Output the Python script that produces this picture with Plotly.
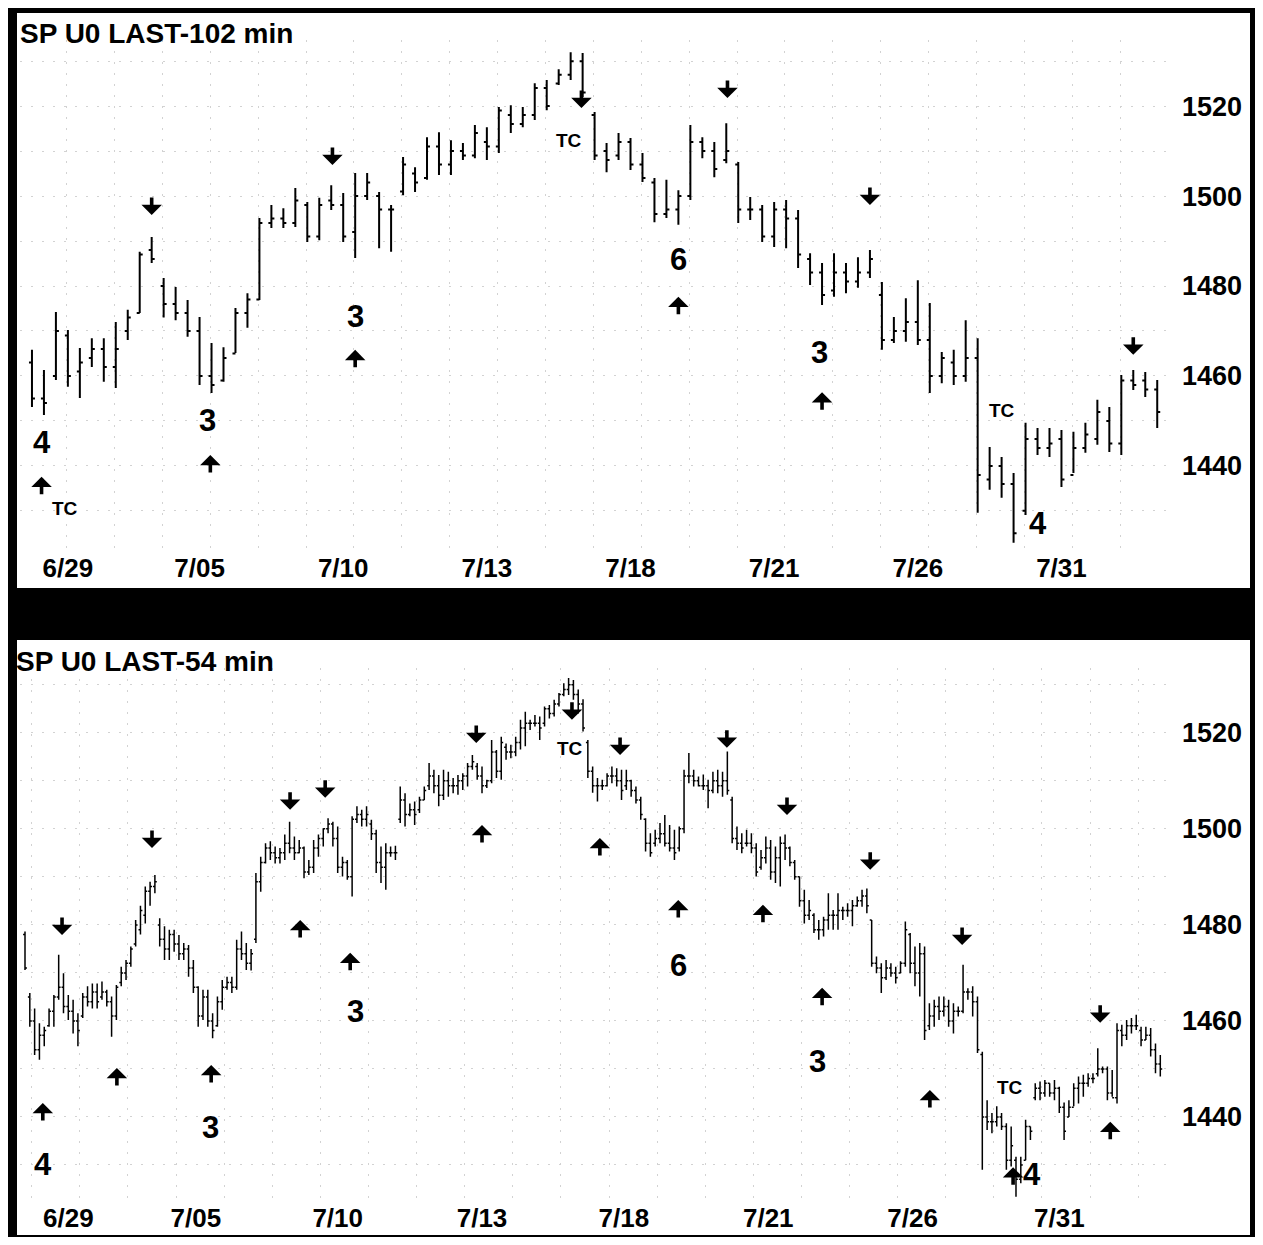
import plotly.graph_objects as go

# ---------------- data: top panel (102-min bars) ----------------
top_open = [1463,1455,1460,1469,1461,1464,1466,1462,1470,1474,
            1488,1480,1476,1474,1470,1460,1459,1465,1474,1477,
            1494,1495,1494,1498,1491,1499,1498,1492,1500,1500,
            1497,1501,1505,1504,1511,1507,1510,1509,1512,1511,
            1518,1516,1518,1524,1525,1527,1530,1518,1510,1509,
            1512,1507,1503,1496,1497,1500,1512,1510,1508,1507,
            1497,1497,1491,1497,1495,1486,1483,1479,1483,1481,
            1483,1478,1468,1470,1472,1468,1460,1463,1460,1464,
            1437,1440,1436,1430,1446,1444,1446,1438,1444,1446,
            1450,1445,1459,1459,1457]
top_high = [1465.8,1461.3,1474.2,1470.2,1466.2,1468.4,1468.4,1472.0,1474.7,1487.6,
            1490.9,1481.8,1479.8,1476.9,1473.1,1467.3,1466.4,1475.1,1478.4,1495.1,
            1498.0,1497.3,1501.8,1498.7,1499.6,1502.4,1500.7,1505.1,1505.1,1500.9,
            1498.0,1508.7,1506.4,1513.1,1514.2,1512.4,1511.8,1515.8,1515.3,1519.8,
            1520.2,1519.8,1525.1,1525.8,1528.2,1532.0,1531.8,1518.7,1511.8,1514.0,
            1512.9,1509.6,1504.0,1503.6,1501.3,1515.8,1513.1,1512.0,1516.2,1507.6,
            1499.8,1498.0,1498.7,1499.1,1496.9,1487.3,1485.1,1487.3,1485.1,1486.4,
            1488.0,1480.9,1473.1,1477.3,1481.3,1476.2,1465.3,1465.8,1472.4,1468.4,
            1444.2,1442.0,1438.4,1449.6,1448.4,1448.4,1448.0,1447.6,1449.6,1454.7,
            1453.1,1460.2,1461.3,1460.9,1459.1]
top_low = [1453.1,1451.3,1459.1,1457.6,1455.1,1462.0,1458.7,1457.3,1468.0,1474.0,
           1485.1,1473.0,1472.4,1468.7,1458.0,1456.2,1458.7,1465.1,1470.7,1476.9,
           1492.9,1492.9,1493.1,1489.8,1490.2,1496.9,1489.8,1486.2,1499.1,1488.4,
           1487.6,1500.2,1500.9,1503.6,1504.7,1504.7,1508.0,1508.4,1508.0,1509.6,
           1514.0,1515.3,1516.9,1519.1,1524.7,1525.8,1522.0,1508.0,1505.3,1508.0,
           1505.8,1503.1,1494.2,1495.1,1493.6,1499.1,1508.4,1504.2,1507.3,1494.0,
           1494.7,1489.8,1488.7,1488.4,1484.0,1480.2,1475.8,1477.6,1478.4,1479.6,
           1481.8,1465.8,1467.3,1467.6,1466.9,1456.2,1458.4,1458.0,1458.7,1429.6,
           1434.7,1432.9,1422.9,1429.1,1442.4,1442.0,1435.3,1438.4,1442.9,1444.7,
           1443.1,1442.4,1456.9,1455.3,1448.4]
top_close = [1455,1454,1470,1460,1463,1466,1462,1466,1473,1487,
             1486,1476,1474,1470,1460,1458,1464,1474,1477,1494,
             1495,1494,1499,1491,1498,1498,1491,1500,1503,1497,
             1497,1507,1503,1511,1507,1510,1509,1514,1511,1519,
             1516,1518,1524,1520,1527,1530,1523,1509,1508,1512,
             1507,1504,1496,1497,1500,1512,1510,1506,1510,1497,
             1497,1491,1497,1495,1487,1483,1478,1483,1481,1483,
             1486,1468,1470,1472,1468,1460,1464,1460,1464,1438,
             1440,1436,1425,1446,1444,1445,1437,1444,1447,1452,
             1445,1459,1458,1457,1452]

# ---------------- data: bottom panel (54-min bars) ----------------
bot_open = [1478,1465,1460,1454,1457,1459,1462,1465,1467,1463,
            1462,1460,1461,1465,1464,1466,1465,1466,1464,1461,
            1468,1470,1472,1476,1479,1482,1487,1488,1480,1477,
            1475,1478,1476,1474,1475,1471,1467,1461,1465,1460,
            1459,1464,1467,1468,1467,1475,1474,1472,1477,1489,
            1493,1496,1495,1494,1495,1497,1496,1495,1496,1491,
            1492,1496,1498,1500,1501,1498,1492,1493,1490,1502,
            1503,1502,1501,1499,1493,1492,1495,1495,1502,1506,
            1503,1504,1504,1506,1509,1511,1509,1507,1510,1509,
            1509,1510,1511,1513,1513,1511,1509,1510,1516,1512,
            1517,1516,1516,1518,1521,1522,1522,1522,1522,1525,
            1524,1526,1528,1529,1530,1528,1526,1518,1512,1509,
            1509,1509,1511,1511,1510,1509,1510,1508,1506,1502,
            1497,1497,1498,1499,1497,1496,1496,1500,1511,1511,
            1510,1509,1509,1508,1510,1509,1510,1506,1498,1497,
            1497,1497,1496,1492,1494,1496,1491,1494,1497,1496,
            1493,1490,1485,1482,1482,1479,1479,1481,1482,1482,
            1483,1483,1483,1484,1485,1486,1481,1472,1471,1469,
            1471,1470,1470,1472,1478,1472,1470,1474,1459,1461,
            1463,1462,1463,1460,1462,1462,1466,1466,1464,1453,
            1440,1439,1439,1440,1438,1431,1431,1427,1431,1438,
            1444,1446,1445,1447,1445,1446,1442,1440,1442,1446,
            1447,1447,1448,1449,1450,1450,1445,1444,1458,1457,
            1459,1459,1458,1456,1457,1454,1451]
bot_high = [1478.6,1465.8,1462.6,1459.5,1458.8,1462.6,1465.4,1473.8,1469.9,1465.4,
            1464.4,1461.6,1465.8,1467.2,1467.8,1467.8,1468.2,1466.5,1465.1,1467.5,
            1471.3,1472.7,1475.5,1481.0,1484.0,1488.0,1489.0,1490.4,1481.4,1479.7,
            1479.0,1479.0,1477.9,1476.2,1475.8,1472.7,1467.2,1466.5,1466.5,1461.6,
            1465.1,1468.5,1469.2,1469.2,1476.9,1478.6,1476.2,1475.0,1490.8,1494.2,
            1497.0,1497.4,1496.3,1496.0,1498.8,1501.5,1498.4,1497.7,1496.3,1493.5,
            1497.7,1498.8,1500.1,1502.2,1501.5,1500.5,1494.2,1493.5,1502.6,1504.7,
            1504.0,1504.7,1501.9,1499.8,1496.3,1497.0,1496.3,1496.5,1508.8,1507.4,
            1505.3,1505.7,1506.7,1508.8,1513.7,1512.3,1511.2,1512.3,1511.9,1510.6,
            1511.2,1511.6,1513.7,1515.4,1513.7,1513.0,1510.2,1518.5,1516.4,1519.2,
            1517.8,1517.5,1519.2,1522.7,1524.4,1522.7,1523.7,1523.4,1525.5,1525.8,
            1526.9,1528.3,1530.3,1531.4,1531.0,1529.0,1527.0,1518.5,1513.0,1510.6,
            1510.2,1511.6,1513.0,1512.6,1512.3,1512.3,1510.2,1508.8,1506.7,1502.2,
            1499.1,1499.8,1501.2,1502.9,1500.8,1499.8,1500.5,1512.3,1515.8,1512.3,
            1510.9,1511.3,1510.2,1511.9,1512.3,1511.9,1516.1,1506.7,1500.5,1499.1,
            1499.8,1499.1,1497.0,1495.6,1498.4,1497.7,1496.3,1498.4,1498.8,1496.3,
            1493.5,1490.1,1487.3,1485.2,1482.4,1481.0,1481.7,1486.6,1483.1,1486.6,
            1483.8,1484.5,1485.2,1485.9,1487.3,1487.6,1481.0,1473.4,1472.0,1472.7,
            1472.0,1471.3,1472.4,1480.7,1478.3,1475.5,1476.2,1475.5,1463.7,1464.4,
            1465.1,1465.1,1464.4,1463.7,1463.0,1471.7,1466.8,1467.2,1465.1,1453.6,
            1443.5,1440.8,1442.2,1440.8,1438.7,1438.0,1431.7,1431.7,1439.4,1438.0,
            1447.0,1447.4,1447.7,1447.0,1447.7,1446.3,1443.0,1443.5,1447.0,1448.4,
            1448.8,1449.1,1449.1,1454.3,1450.5,1450.5,1449.8,1459.5,1459.2,1460.2,
            1460.6,1461.3,1458.8,1458.8,1458.5,1455.3,1452.9]
bot_low = [1470.6,1458.8,1452.9,1451.9,1454.7,1458.8,1458.8,1464.4,1461.6,1460.2,
           1457.4,1454.7,1460.6,1463.0,1462.6,1462.6,1464.4,1463.0,1456.7,1460.2,
           1467.2,1468.5,1471.3,1475.5,1478.0,1480.3,1484.0,1486.6,1475.5,1472.7,
           1472.7,1474.4,1472.7,1472.7,1469.2,1465.8,1458.8,1460.2,1458.8,1456.4,
           1458.8,1462.3,1466.5,1465.8,1466.5,1472.7,1470.6,1470.5,1476.2,1486.9,
           1492.8,1493.5,1492.8,1492.8,1493.5,1494.9,1493.5,1494.9,1489.7,1490.4,
           1490.8,1494.2,1496.3,1499.1,1496.3,1490.8,1490.1,1489.4,1485.9,1501.2,
           1500.5,1500.5,1497.7,1490.8,1488.7,1487.3,1494.2,1493.5,1501.2,1500.5,
           1502.6,1500.8,1503.3,1506.0,1508.1,1507.4,1504.7,1506.0,1506.7,1507.4,
           1507.1,1508.1,1508.8,1512.3,1510.2,1507.4,1508.5,1509.5,1510.6,1510.2,
           1514.4,1514.7,1515.1,1516.5,1517.2,1520.6,1521.3,1518.5,1521.3,1523.0,
           1523.4,1525.5,1527.6,1527.9,1526.9,1524.0,1520.3,1510.6,1507.5,1505.7,
           1508.1,1508.8,1509.5,1508.8,1506.0,1508.1,1506.7,1505.3,1501.9,1495.3,
           1494.2,1496.3,1497.0,1496.3,1495.3,1493.5,1495.3,1499.1,1509.5,1508.8,
           1508.8,1508.1,1504.3,1507.4,1507.4,1506.7,1507.1,1497.0,1495.6,1494.9,
           1496.3,1494.9,1490.1,1491.5,1492.8,1489.4,1488.7,1488.0,1493.5,1492.2,
           1489.4,1483.8,1480.3,1481.0,1478.3,1476.9,1477.6,1479.0,1479.0,1479.0,
           1481.0,1481.7,1479.7,1483.8,1483.8,1482.4,1471.3,1469.9,1465.8,1468.5,
           1469.2,1467.8,1469.9,1471.3,1469.9,1467.2,1465.1,1456.0,1458.1,1458.8,
           1460.2,1460.9,1458.8,1457.4,1460.9,1461.6,1464.4,1460.9,1453.3,1429.0,
           1437.3,1436.6,1438.0,1437.3,1429.0,1429.7,1423.4,1426.2,1431.0,1435.2,
           1443.5,1443.5,1444.2,1444.2,1443.5,1440.8,1435.2,1440.0,1442.2,1442.8,
           1444.2,1446.3,1447.0,1448.4,1449.1,1443.5,1444.2,1442.8,1454.7,1456.0,
           1457.4,1458.1,1454.7,1456.0,1452.6,1449.1,1448.4]
bot_close = [1471,1460,1454,1457,1458,1462,1465,1467,1463,1462,
             1460,1458,1465,1464,1466,1464,1466,1464,1461,1467,
             1470,1472,1475,1480,1483,1487,1488,1489,1477,1475,
             1478,1476,1474,1475,1471,1467,1461,1465,1460,1458,
             1464,1467,1468,1467,1475,1474,1472,1474,1489,1493,
             1496,1495,1494,1495,1497,1496,1495,1496,1491,1492,
             1496,1498,1500,1501,1498,1492,1493,1490,1502,1503,
             1502,1503,1499,1493,1492,1495,1495,1495,1506,1503,
             1504,1503,1506,1508,1511,1509,1507,1510,1509,1509,
             1510,1511,1513,1514,1511,1509,1510,1516,1512,1518,
             1516,1516,1518,1521,1522,1522,1522,1521,1525,1524,
             1526,1528,1529,1530,1528,1526,1521,1512,1509,1509,
             1509,1511,1511,1510,1508,1510,1508,1506,1503,1497,
             1495,1498,1499,1497,1496,1495,1500,1511,1511,1510,
             1509,1509,1508,1510,1509,1510,1508,1498,1497,1496,
             1497,1496,1491,1494,1496,1491,1494,1497,1496,1493,
             1490,1485,1482,1483,1479,1479,1481,1482,1482,1483,
             1483,1483,1484,1485,1486,1484,1472,1471,1469,1471,
             1470,1469,1472,1479,1472,1470,1474,1458,1461,1463,
             1462,1463,1460,1462,1462,1466,1466,1464,1454,1440,
             1439,1439,1440,1438,1431,1434,1427,1430,1438,1437,
             1446,1445,1447,1445,1446,1442,1437,1442,1446,1447,
             1447,1448,1448,1450,1450,1445,1444,1458,1457,1459,
             1459,1459,1456,1457,1454,1451,1450]

# ---------------- axis labels ----------------
date_labels = ["6/29", "7/05", "7/10", "7/13", "7/18", "7/21", "7/26", "7/31"]
top_date_pos = [3, 14, 26, 38, 50, 62, 74, 86]
bot_date_pos = [9, 35.5, 65, 95, 124.5, 154.5, 184.5, 215]
price_ticks = [1440, 1460, 1480, 1500, 1520]

top_title = "SP U0 LAST-102 min"
bot_title = "SP U0 LAST-54 min"

# ---------------- signal annotations (bar position, price) ----------------
top_dn_pos = [10, 25.1, 45.9, 58.1, 70, 92]
top_dn_px = [1495.8, 1506.9, 1519.6, 1521.8, 1498.0, 1464.7]
top_up_pos = [0.8, 14.9, 27, 54, 66]
top_up_px = [1437.6, 1442.4, 1465.8, 1477.6, 1456.4]
top_num_txt = ["4", "3", "3", "6", "3", "4"]
top_num_pos = [0.8, 14.7, 27, 54, 65.8, 84]
top_num_px = [1445.1, 1450.2, 1473.2, 1486.0, 1465.2, 1427.2]
top_tc_pos = [2.8, 44.9, 81]
top_tc_px = [1430.5, 1512.4, 1452.4]

bot_dn_pos = [7.7, 26.4, 55.1, 62.4, 93.8, 113.7, 123.7, 145.9, 158.4, 175.7, 194.8, 223.5]
bot_dn_px = [1477.9, 1496.0, 1504.0, 1506.5, 1517.9, 1522.7, 1515.4, 1516.9, 1502.9, 1491.5, 1475.8, 1459.6]
bot_up_pos = [3.7, 19.1, 38.7, 57.2, 67.6, 95, 119.5, 135.8, 153.4, 165.7, 188.1, 205.4, 225.6]
bot_up_px = [1442.9, 1450.2, 1450.8, 1481.0, 1474.2, 1500.8, 1498.1, 1485.2, 1484.2, 1466.9, 1445.6, 1429.5, 1439.0]
bot_num_txt = ["4", "3", "3", "6", "3", "4"]
bot_num_pos = [3.7, 38.5, 68.6, 135.8, 164.7, 209.4]
bot_num_px = [1430.0, 1437.7, 1461.9, 1471.5, 1451.5, 1428.1]
bot_tc_pos = [113.3, 204.8]
bot_tc_px = [1516.8, 1446.2]

# ---------------- figure ----------------
# page is offset by the 8px body margin; keep the whole figure inside the window
W, H = 1247, 1229
ML, MR, MT, MB = 12, 87, 32, 37
FONT = "Liberation Sans, Arial, Helvetica, sans-serif"


def pxx(fx):
    return (fx - ML) / (W - ML - MR)


def pxy(fy):
    return (H - MB - fy) / (H - MT - MB)


fig = go.Figure()
fig.add_trace(go.Ohlc(
    x=list(range(len(top_high))), open=top_open, high=top_high, low=top_low, close=top_close,
    xaxis="x", yaxis="y", tickwidth=0.25, line=dict(width=2),
    increasing=dict(line=dict(color="black")), decreasing=dict(line=dict(color="black")),
    showlegend=False, hoverinfo="skip"))
fig.add_trace(go.Ohlc(
    x=list(range(len(bot_high))), open=bot_open, high=bot_high, low=bot_low, close=bot_close,
    xaxis="x2", yaxis="y2", tickwidth=0.4, line=dict(width=1.5),
    increasing=dict(line=dict(color="black")), decreasing=dict(line=dict(color="black")),
    showlegend=False, hoverinfo="skip"))

GRIDC = "#d2d2d2"
GRIDDASH = "2px,9px"
tickfont = dict(family=FONT, size=27, color="black", weight="bold")
xtickfont = dict(family=FONT, size=26, color="black", weight="bold")


def xaxis(anchor, pos, rng, t0, dt, standoff):
    return dict(anchor=anchor, domain=[0, 1], range=rng, tickmode="array",
                tickvals=pos, ticktext=date_labels, tickfont=xtickfont, ticks="",
                showline=False, zeroline=False, showgrid=False, automargin=False,
                ticklabelstandoff=standoff,
                minor=dict(tick0=t0, dtick=dt, showgrid=True, gridcolor=GRIDC,
                           griddash=GRIDDASH, gridwidth=1),
                rangeslider=dict(visible=False), fixedrange=True)


def yaxis(anchor, dom, rng):
    return dict(anchor=anchor, domain=dom, range=rng, side="right", tickmode="array",
                tickvals=price_ticks, ticktext=[str(v) for v in price_ticks], tickfont=tickfont,
                ticks="", showline=False, zeroline=False, showgrid=False, automargin=False,
                ticklabelstandoff=13,
                minor=dict(dtick=10, showgrid=True, gridcolor=GRIDC, griddash=GRIDDASH,
                           gridwidth=1), fixedrange=True)


fig.update_layout(
    width=W, height=H, autosize=False,
    margin=dict(l=ML, r=MR, t=MT, b=MB, pad=0, autoexpand=False),
    paper_bgcolor="white", plot_bgcolor="white",
    xaxis=xaxis("y", top_date_pos, [-1.0, 94.9], 2.9, 4, 0),
    yaxis=yaxis("x", [pxy(542), 1], [1421.3, 1534.7]),
    xaxis2=xaxis("y2", bot_date_pos, [-1.04, 237.6], 1.4, 10, 0),
    yaxis2=yaxis("x2", [0, pxy(660)], [1422.7, 1533.5]),
)

shapes = []


def block(fx0, fy0, fx1, fy1):
    shapes.append(dict(type="rect", xref="paper", yref="paper",
                       x0=pxx(fx0), x1=pxx(fx1), y0=pxy(fy1), y1=pxy(fy0),
                       fillcolor="black", line=dict(width=0), layer="above"))


block(0, 0, 9, H)          # left frame edge
block(0, 0, W, 5)          # top frame edge
block(W - 5, 0, W, H)      # right frame edge
block(0, 580, W, 632)      # band between panels
block(0, H - 2, W, H)      # bottom frame edge
fig.update_layout(shapes=shapes)

ann = []
ann.append(dict(xref="paper", yref="paper", x=pxx(10), y=pxy(26), text=top_title,
                showarrow=False, xanchor="left", yanchor="middle",
                font=dict(family=FONT, size=28, color="black", weight="bold")))
ann.append(dict(xref="paper", yref="paper", x=pxx(6), y=pxy(653), text=bot_title,
                showarrow=False, xanchor="left", yanchor="middle",
                font=dict(family=FONT, size=28, color="black", weight="bold")))


def arrows(xr, yr, pos, prices, down):
    for p, v in zip(pos, prices):
        ann.append(dict(xref=xr, yref=yr, x=p, y=v, text="", showarrow=True,
                        arrowhead=1, arrowsize=0.95, arrowwidth=3.6, arrowcolor="black",
                        ax=0, ay=-19 if down else 19))


def texts(xr, yr, txt, pos, prices, size):
    for t, p, v in zip(txt, pos, prices):
        ann.append(dict(xref=xr, yref=yr, x=p, y=v, text=t, showarrow=False,
                        xanchor="center", yanchor="middle",
                        font=dict(family=FONT, size=size, color="black", weight="bold")))


arrows("x", "y", top_dn_pos, top_dn_px, True)
arrows("x", "y", top_up_pos, top_up_px, False)
texts("x", "y", top_num_txt, top_num_pos, top_num_px, 31)
texts("x", "y", ["TC"] * len(top_tc_pos), top_tc_pos, top_tc_px, 19)
arrows("x2", "y2", bot_dn_pos, bot_dn_px, True)
arrows("x2", "y2", bot_up_pos, bot_up_px, False)
texts("x2", "y2", bot_num_txt, bot_num_pos, bot_num_px, 31)
texts("x2", "y2", ["TC"] * len(bot_tc_pos), bot_tc_pos, bot_tc_px, 19)
fig.update_layout(annotations=ann)

fig.write_html("out.html")
